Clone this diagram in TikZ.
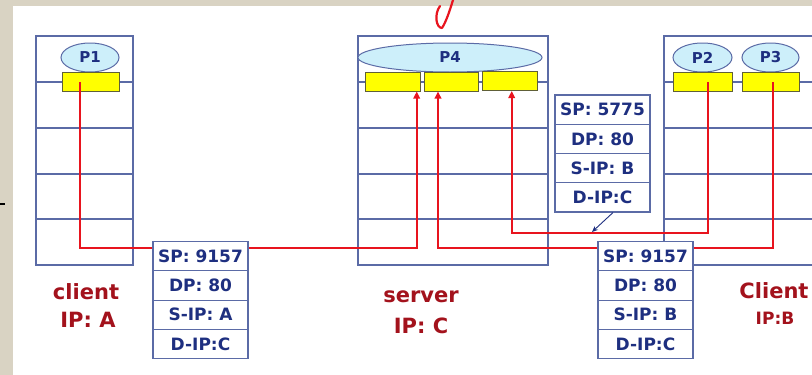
\documentclass[tikz,border=0pt]{standalone}
\usepackage{fontspec}
\setmainfont{DejaVu Sans}
\usetikzlibrary{arrows.meta,shapes.geometric,calc}
\definecolor{bg}{HTML}{D9D3C3}
\definecolor{hostline}{HTML}{5B6BA6}
\definecolor{elfill}{HTML}{CDEFFA}
\definecolor{navy}{HTML}{1E2F80}
\definecolor{lbl}{HTML}{A3121C}
\definecolor{sock}{HTML}{FFFF00}
\definecolor{sockline}{HTML}{606038}
\definecolor{netred}{HTML}{E8141E}
\begin{document}
\begin{tikzpicture}[x=1pt,y=-1pt,
 hostbox/.style={draw=hostline,line width=1.1pt},
 proc/.style={ellipse,draw=hostline,fill=elfill,line width=1pt,inner sep=0pt,minimum height=29pt,font=\fontsize{15}{15}\selectfont\bfseries,text=navy},
 sockbox/.style={rectangle,draw=sockline,fill=sock,line width=1pt,inner sep=0pt,minimum height=19pt},
 field/.style={rectangle,draw=hostline,fill=white,line width=1.1pt,minimum width=95pt,minimum height=29.2pt,inner sep=0pt,font=\fontsize{17}{17}\selectfont\bfseries,text=navy},
 hostlabel/.style={font=\fontsize{21}{21}\selectfont\bfseries,text=lbl,inner sep=0pt},
 netline/.style={draw=netred,line width=1.8pt},
 tip/.style={-{Triangle[length=7pt,width=6.5pt]}},
]
% background
\fill[bg] (0,0) rectangle (812,375);
\useasboundingbox (0,0) rectangle (812,375);
\fill[white] (13,6) rectangle (812,375);
\draw[black,line width=1.3pt] (0,204) -- (5,204);
% handwritten mark
\draw[netred,line width=2.2pt,line cap=round,line join=round] (440,6) .. controls (434,14) and (436,28) .. (442,28) .. controls (446,22) and (450,10) .. (453,0);

% hosts
\draw[hostbox] (36,36) rectangle (133,265);
\foreach \yy in {82,128,174,219} \draw[hostbox] (36,\yy) -- (133,\yy);
\draw[hostbox] (358,36) rectangle (548,265);
\foreach \yy in {82,128,174,219} \draw[hostbox] (358,\yy) -- (548,\yy);
\begin{scope}
\clip (0,0) rectangle (812,375);
\draw[hostbox] (830,36) -| (664,265) -- (830,265);
\foreach \yy in {82,128,174,219} \draw[hostbox] (664,\yy) -- (830,\yy);
\end{scope}

% processes
\node[proc,minimum width=58pt] (p1) at (90,57.5) {P1};
\node[proc,minimum width=184pt] (p4) at (450,57.5) {P4};
\node[proc,minimum width=59pt] (p2) at (702.5,57.5) {P2};
\node[proc,minimum width=57pt] (p3) at (770.5,57.5) {P3};

% sockets
\node[sockbox,minimum width=57pt] (y1) at (90.5,81.5) {};
\node[sockbox,minimum width=55pt] (s1) at (392.5,81.5) {};
\node[sockbox,minimum width=54pt] (s2) at (451,81.5) {};
\node[sockbox,minimum width=55pt] (s3) at (509.5,81) {};
\node[sockbox,minimum width=59pt] (b2) at (702.5,81.5) {};
\node[sockbox,minimum width=57pt] (b3) at (770.5,81.5) {};

% network paths
\coordinate (a1) at (80,82);
\coordinate (c1) at (416.7,248);
\draw[netline,tip] (a1) |- (c1) -- (c1 |- s1.south);
\coordinate (a2) at (773,82);
\coordinate (c2) at (438,248);
\draw[netline,tip] (a2) |- (c2) -- (c2 |- s2.south);
\coordinate (a3) at (708,82);
\coordinate (c3) at (511.7,233);
\draw[netline,tip] (a3) |- (c3) -- (c3 |- s3.south);

% packet A -> C
\node[field] (pa1) at (200.5,256.3) {SP: 9157};
\node[field] (pa2) at (200.5,285.5) {DP: 80};
\node[field] (pa3) at (200.5,314.7) {S-IP: A};
\node[field] (pa4) at (200.5,343.9) {D-IP:C};
% packet B(9157) -> C
\node[field] (pb1) at (645.5,256.3) {SP: 9157};
\node[field] (pb2) at (645.5,285.5) {DP: 80};
\node[field] (pb3) at (645.5,314.7) {S-IP: B};
\node[field] (pb4) at (645.5,343.9) {D-IP:C};
% packet B(5775) -> C
\node[field] (pc1) at (602.5,109.6) {SP: 5775};
\node[field] (pc2) at (602.5,138.9) {DP: 80};
\node[field] (pc3) at (602.5,168.1) {S-IP: B};
\node[field] (pc4) at (602.5,197.4) {D-IP:C};
\coordinate (t3) at (592,232);
\draw[navy,line width=0.9pt,-{Stealth[length=6pt,width=5pt]}] ($(pc4.south)+(10.5,0)$) -- (t3);

% host labels
\node[hostlabel] (la1) at (86,292) {client};
\node[hostlabel] (la2) at (88,320) {IP: A};
\node[hostlabel] (lc1) at (421,297) {server};
\node[hostlabel] (lc2) at (421,326) {IP: C};
\node[hostlabel] (lb1) at (774,291) {Client};
\node[hostlabel,font=\fontsize{17}{17}\selectfont\bfseries] (lb2) at (775,318) {IP:B};
\end{tikzpicture}
\end{document}
